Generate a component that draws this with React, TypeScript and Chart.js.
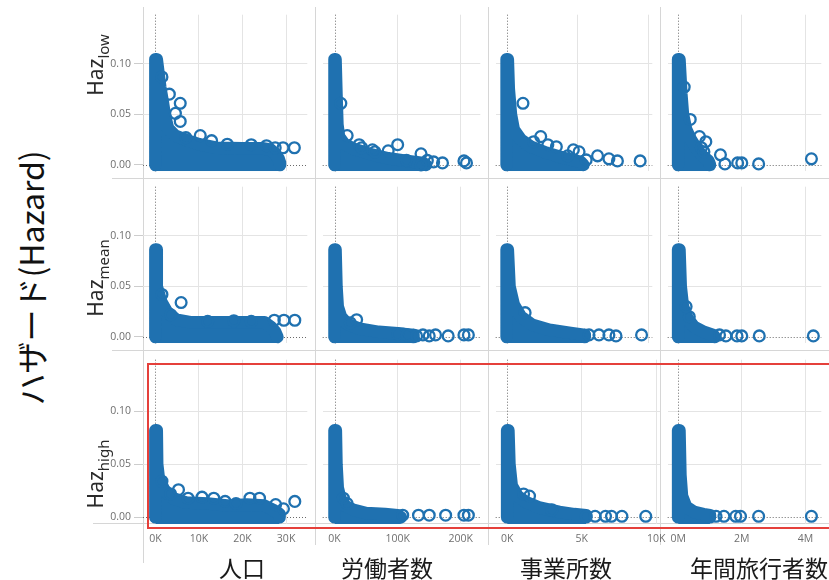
import React, { useEffect, useRef } from 'react';
import { Chart, registerables } from 'chart.js';

Chart.register(...registerables);

type P = [number, number];

// ---------- tick values / labels ----------
const popTicks = [0, 10000, 20000, 30000];
const popTickLabels = ['0K', '10K', '20K', '30K'];
const workTicks = [0, 100000, 200000];
const workTickLabels = ['0K', '100K', '200K'];
const officeTicks = [0, 5000, 10000];
const officeTickLabels = ['0K', '5K', '10K'];
const travelTicks = [0, 2000000, 4000000];
const travelTickLabels = ['0M', '2M', '4M'];
const hazTicks = [0, 0.05, 0.1];
const hazTickLabels = ['0.00', '0.05', '0.10'];

const columnTitles = ['人口', '労働者数', '事業所数', '年間旅行者数'];
const rowNames = ['low', 'mean', 'high'];
const yAxisTitle = 'ハザード(Hazard)';

// ---------- data: dense region envelope (blob) + individual points ----------
// Haz low
const popLowBlob: P[] = [[0, 0], [0, 0.1045], [300, 0.1045], [1100, 0.077], [1700, 0.062], [2200, 0.048], [2900, 0.036], [4500, 0.029], [7500, 0.024], [10000, 0.0205], [14000, 0.017], [20000, 0.0165], [24500, 0.0165], [26500, 0.015], [27500, 0.011], [28300, 0.006], [28600, 0.002], [28600, 0]];
const popLowPts: P[] = [[1500, 0.087], [3200, 0.07], [5700, 0.061], [4600, 0.051], [5700, 0.043], [10300, 0.029], [12900, 0.024], [7000, 0.027], [16500, 0.0205], [22000, 0.02], [25500, 0.019], [27500, 0.017], [29300, 0.017], [31900, 0.017]];
const workLowBlob: P[] = [[0, 0], [0, 0.1045], [1500, 0.1045], [3000, 0.07], [4500, 0.04], [7000, 0.028], [15000, 0.021], [30000, 0.016], [55000, 0.011], [85000, 0.0065], [115000, 0.004], [140000, 0.002], [145000, 0]];
const workLowPts: P[] = [[10000, 0.061], [20000, 0.029], [39000, 0.02], [43000, 0.017], [60000, 0.015], [64000, 0.013], [85000, 0.014], [100000, 0.02], [114000, 0.0045], [137000, 0.011], [147000, 0.0045], [157000, 0.003], [171000, 0.002], [205000, 0.004], [209000, 0.002], [137000, 0]];
const officeLowBlob: P[] = [[0, 0], [0, 0.1045], [80, 0.1045], [150, 0.075], [300, 0.05], [500, 0.035], [1000, 0.025], [1700, 0.018], [2800, 0.012], [4000, 0.007], [5200, 0.003], [5400, 0]];
const officeLowPts: P[] = [[1150, 0.061], [2400, 0.028], [1900, 0.023], [2900, 0.02], [3500, 0.018], [4700, 0.015], [5100, 0.013], [4300, 0.009], [5600, 0.005], [6400, 0.009], [7200, 0.006], [7800, 0.004], [9400, 0.004]];
const travelLowBlob: P[] = [[0, 0], [0, 0.1045], [40000, 0.1045], [100000, 0.07], [150000, 0.05], [250000, 0.035], [400000, 0.025], [600000, 0.015], [800000, 0.008], [950000, 0.004], [1000000, 0]];
const travelLowPts: P[] = [[190000, 0.077], [380000, 0.045], [670000, 0.028], [870000, 0.023], [730000, 0.017], [810000, 0.013], [1330000, 0.01], [1470000, 0.001], [1870000, 0.002], [2000000, 0.002], [2530000, 0.001], [4190000, 0.006]];

// Haz mean
const popMeanBlob: P[] = [[0, 0], [0, 0.0865], [300, 0.0865], [300, 0.05], [1300, 0.035], [2600, 0.025], [4800, 0.017], [8000, 0.0145], [25000, 0.0145], [26500, 0.01], [27500, 0.005], [28000, 0]];
const popMeanPts: P[] = [[5900, 0.034], [1500, 0.042], [3500, 0.022], [12000, 0.0155], [18000, 0.016], [22000, 0.0155], [27300, 0.0165], [29500, 0.0165], [32000, 0.0165]];
const workMeanBlob: P[] = [[0, 0], [0, 0.0865], [1500, 0.0865], [3000, 0.05], [5000, 0.03], [10000, 0.02], [20000, 0.013], [40000, 0.008], [70000, 0.005], [110000, 0.003], [125000, 0.002], [125000, 0]];
const workMeanPts: P[] = [[35000, 0.017], [25000, 0.014], [100000, 0.003], [115000, 0.002], [130000, 0.001], [140000, 0.002], [150000, 0.001], [160000, 0.002], [180000, 0.001], [205000, 0.002], [212000, 0.002]];
const officeMeanBlob: P[] = [[0, 0], [0, 0.0865], [80, 0.0865], [200, 0.05], [500, 0.032], [1000, 0.02], [1800, 0.012], [3000, 0.007], [4500, 0.004], [5500, 0.002], [5500, 0]];
const officeMeanPts: P[] = [[1300, 0.024], [5800, 0.002], [6500, 0.002], [7200, 0.002], [7700, 0.001], [9500, 0.002]];
const travelMeanBlob: P[] = [[0, 0], [0, 0.0865], [40000, 0.0865], [80000, 0.05], [150000, 0.03], [300000, 0.018], [500000, 0.01], [800000, 0.005], [1100000, 0.002], [1150000, 0]];
const travelMeanPts: P[] = [[350000, 0.02], [250000, 0.03], [1300000, 0.002], [1500000, 0.001], [1850000, 0.001], [2000000, 0.001], [2550000, 0.001], [4250000, 0.001]];

// Haz high
const popHighBlob: P[] = [[0, 0], [0, 0.082], [300, 0.082], [400, 0.05], [800, 0.036], [2000, 0.026], [4000, 0.018], [7000, 0.014], [12000, 0.013], [17000, 0.011], [21000, 0.012], [25000, 0.011], [27000, 0.007], [28500, 0.003], [28500, 0]];
const popHighPts: P[] = [[1500, 0.034], [3500, 0.022], [5300, 0.026], [7500, 0.018], [10700, 0.019], [13400, 0.018], [16000, 0.015], [18500, 0.013], [21700, 0.018], [23900, 0.018], [27600, 0.012], [29400, 0.008], [32000, 0.015]];
const workHighBlob: P[] = [[0, 0], [0, 0.082], [2000, 0.082], [3000, 0.05], [5000, 0.028], [9000, 0.018], [16000, 0.011], [30000, 0.007], [50000, 0.004], [80000, 0.003], [100000, 0.002], [105000, 0]];
const workHighPts: P[] = [[14000, 0.018], [20000, 0.013], [108000, 0.002], [133000, 0.002], [150000, 0.002], [176000, 0.002], [205000, 0.002], [212000, 0.002]];
const officeHighBlob: P[] = [[0, 0], [0, 0.082], [80, 0.082], [150, 0.05], [300, 0.03], [700, 0.02], [1300, 0.014], [2200, 0.009], [3500, 0.005], [4500, 0.003], [5300, 0.002], [5300, 0]];
const officeHighPts: P[] = [[1100, 0.022], [1500, 0.02], [3000, 0.007], [5300, 0.001], [5900, 0.001], [6600, 0.001], [7000, 0.001], [7700, 0.001], [9300, 0.001]];
const travelHighBlob: P[] = [[0, 0], [0, 0.082], [40000, 0.082], [70000, 0.04], [120000, 0.02], [250000, 0.01], [500000, 0.005], [800000, 0.003], [1000000, 0.002], [1000000, 0]];
const travelHighPts: P[] = [[1190000, 0.001], [1440000, 0.001], [1810000, 0.001], [1960000, 0.001], [2530000, 0.001], [4190000, 0.001]];

// ---------- layout / style ----------
const BLUE = '#1f71b0';
const GRID = '#e4e4e4';
const LINE = '#d6d6d6';
const TICK_COLOR = '#6f6f6f';
const TICK_FONT = "'Open Sans', 'Noto Sans', sans-serif";
const CJK_FONT = "'Noto Sans CJK JP', 'Noto Sans', sans-serif";

const colLeft = [143, 315, 488, 660];
const colRight = [315, 488, 660, 829];
const rowTop = [7, 179, 352];
const PANEL_H = 172;
const xRanges: P[] = [[-2850, 34870], [-18760, 230900], [-770, 10256], [-328600, 4500000]];
const yRange: P = [-0.0063, 0.1486];
const xTickSets = [popTicks, workTicks, officeTicks, travelTicks];
const xLabelSets = [popTickLabels, workTickLabels, officeTickLabels, travelTickLabels];

const grid: { blob: P[]; pts: P[] }[][] = [
  [{ blob: popLowBlob, pts: popLowPts }, { blob: workLowBlob, pts: workLowPts }, { blob: officeLowBlob, pts: officeLowPts }, { blob: travelLowBlob, pts: travelLowPts }],
  [{ blob: popMeanBlob, pts: popMeanPts }, { blob: workMeanBlob, pts: workMeanPts }, { blob: officeMeanBlob, pts: officeMeanPts }, { blob: travelMeanBlob, pts: travelMeanPts }],
  [{ blob: popHighBlob, pts: popHighPts }, { blob: workHighBlob, pts: workHighPts }, { blob: officeHighBlob, pts: officeHighPts }, { blob: travelHighBlob, pts: travelHighPts }],
];

const zeroLines = {
  id: 'zeroLines',
  beforeDatasetsDraw(chart: any) {
    const { ctx, chartArea, scales } = chart;
    const x0 = Math.round(scales.x.getPixelForValue(0)) + 0.5;
    const y0 = Math.round(scales.y.getPixelForValue(0)) + 0.5;
    ctx.save();
    ctx.strokeStyle = '#6a6a6a';
    ctx.lineWidth = 1;
    ctx.setLineDash([1, 2]);
    ctx.beginPath();
    ctx.moveTo(x0, chartArea.top);
    ctx.lineTo(x0, chartArea.bottom);
    ctx.moveTo(chartArea.left, y0);
    ctx.lineTo(chartArea.right, y0);
    ctx.stroke();
    ctx.restore();
  },
};

function Panel({ row, col }: { row: number; col: number }) {
  const ref = useRef<HTMLCanvasElement>(null);
  const first = col === 0;
  const bottom = row === 2;
  const extraRight = bottom && col === 2 ? 14 : 0;
  const left = colLeft[col] - (first ? 40 : 0);
  const width = colRight[col] - colLeft[col] + (first ? 40 : 0) + extraRight;
  const height = PANEL_H + (bottom ? 30 : 0);

  useEffect(() => {
    const { blob, pts } = grid[row][col];
    const ticks = xTickSets[col];
    const labels = xLabelSets[col];
    const zeroPad = (s: any) => {
      s.paddingLeft = 0;
      s.paddingRight = 0;
      s.paddingTop = 0;
      s.paddingBottom = 0;
    };
    const chart = new Chart(ref.current as HTMLCanvasElement, {
      type: 'scatter',
      data: {
        datasets: [
          {
            data: pts.map(([x, y]) => ({ x, y })),
            pointRadius: 5.4,
            pointBorderWidth: 2.3,
            borderColor: BLUE,
            backgroundColor: 'rgba(255,255,255,0)',
            order: 1,
            clip: false,
          } as any,
          {
            data: blob.map(([x, y]) => ({ x, y })),
            showLine: true,
            fill: 'start',
            borderColor: BLUE,
            backgroundColor: BLUE,
            borderWidth: 12.6,
            pointRadius: 0,
            borderJoinStyle: 'round',
            borderCapStyle: 'round',
            tension: 0,
            order: 2,
            clip: false,
          } as any,
        ],
      },
      options: {
        animation: false,
        responsive: false,
        events: [],
        layout: { padding: { left: 0, top: 0, bottom: 0, right: extraRight } },
        plugins: { legend: { display: false }, tooltip: { enabled: false } },
        scales: {
          x: {
            type: 'linear',
            min: xRanges[col][0],
            max: xRanges[col][1],
            afterBuildTicks: (s: any) => {
              s.ticks = ticks.map((v) => ({ value: v }));
            },
            afterFit: (s: any) => {
              s.height = bottom ? 30 : 0;
              zeroPad(s);
            },
            grid: {
              color: (c: any) => (c.tick && c.tick.value === 0 ? 'rgba(0,0,0,0)' : GRID),
              lineWidth: 1,
              drawTicks: false,
            },
            border: { display: false },
            ticks: {
              display: bottom,
              padding: 9,
              color: TICK_COLOR,
              font: { family: TICK_FONT, size: 10.5 },
              maxRotation: 0,
              autoSkip: false,
              callback: (_v: any, i: number) => labels[i],
            },
          },
          y: {
            type: 'linear',
            min: yRange[0],
            max: yRange[1],
            afterBuildTicks: (s: any) => {
              s.ticks = hazTicks.map((v) => ({ value: v }));
            },
            afterFit: (s: any) => {
              s.width = first ? 40 : 0;
              zeroPad(s);
            },
            grid: {
              color: (c: any) => (c.tick && c.tick.value === 0 ? 'rgba(0,0,0,0)' : GRID),
              lineWidth: 1,
              drawTicks: first,
              tickLength: 9,
              tickColor: '#cdcdcd',
            },
            border: { display: false },
            ticks: {
              display: first,
              padding: 3,
              color: TICK_COLOR,
              font: { family: TICK_FONT, size: 10.5 },
              autoSkip: false,
              callback: (_v: any, i: number) => hazTickLabels[i],
            },
          },
        },
      } as any,
      plugins: [zeroLines],
    });
    return () => chart.destroy();
  }, [row, col]);

  return (
    <canvas
      ref={ref}
      width={width}
      height={height}
      style={{ position: 'absolute', left, top: rowTop[row], width, height }}
    />
  );
}

const rowLabelCenters: P[] = [[96, 65], [96, 278], [96, 474]];
const colTitleCenters = [242, 387, 566, 759];

export default function App() {
  const lines: React.ReactNode[] = [];
  colLeft.forEach((x, c) => {
    lines.push(
      <div key={'v' + c} style={{ position: 'absolute', left: x, top: 7, width: 1, height: (c === 0 ? 563 : 545) - 7, background: LINE }} />
    );
  });
  rowTop.forEach((t, r) => {
    const y = t + PANEL_H - 1;
    const x0 = r === 2 ? 93 : 112;
    lines.push(
      <div key={'h' + r} style={{ position: 'absolute', left: x0, top: y, width: 829 - x0, height: 1, background: LINE }} />
    );
  });

  const panels: React.ReactNode[] = [];
  for (let r = 0; r < 3; r++) for (let c = 0; c < 4; c++) panels.push(<Panel key={r + '-' + c} row={r} col={c} />);

  return (
    <div style={{ position: 'absolute', left: 0, top: 0, width: 829, height: 580, overflow: 'hidden', background: '#fff' }}>
      {lines}
      {panels}
      {rowNames.map((n, r) => (
        <div
          key={'rl' + r}
          style={{
            position: 'absolute',
            left: rowLabelCenters[r][0],
            top: rowLabelCenters[r][1],
            transform: 'translate(-50%, -50%) rotate(-90deg)',
            whiteSpace: 'nowrap',
            fontFamily: "'Noto Sans', 'Open Sans', sans-serif",
            color: '#2a2a2a',
            lineHeight: '26px',
          }}
        >
          <span style={{ fontSize: 21 }}>Haz</span>
          <span style={{ fontSize: 15, position: 'relative', top: 6 }}>{n}</span>
        </div>
      ))}
      <div
        style={{
          position: 'absolute',
          left: 30,
          top: 278,
          transform: 'translate(-50%, -50%) rotate(-90deg)',
          whiteSpace: 'nowrap',
          fontFamily: CJK_FONT,
          fontSize: 32,
          lineHeight: '36px',
          color: '#111',
        }}
      >
        {yAxisTitle}
      </div>
      {columnTitles.map((t, c) => (
        <div
          key={'ct' + c}
          style={{
            position: 'absolute',
            left: colTitleCenters[c],
            top: 556,
            transform: 'translateX(-50%)',
            whiteSpace: 'nowrap',
            fontFamily: CJK_FONT,
            fontSize: 23,
            lineHeight: '23px',
            color: '#1a1a1a',
          }}
        >
          {t}
        </div>
      ))}
      <div
        style={{
          position: 'absolute',
          left: 147,
          top: 363,
          width: 700,
          height: 162,
          borderStyle: 'solid',
          borderWidth: 2,
          borderColor: '#e5403b',
          boxSizing: 'content-box',
          pointerEvents: 'none',
        }}
      />
    </div>
  );
}
